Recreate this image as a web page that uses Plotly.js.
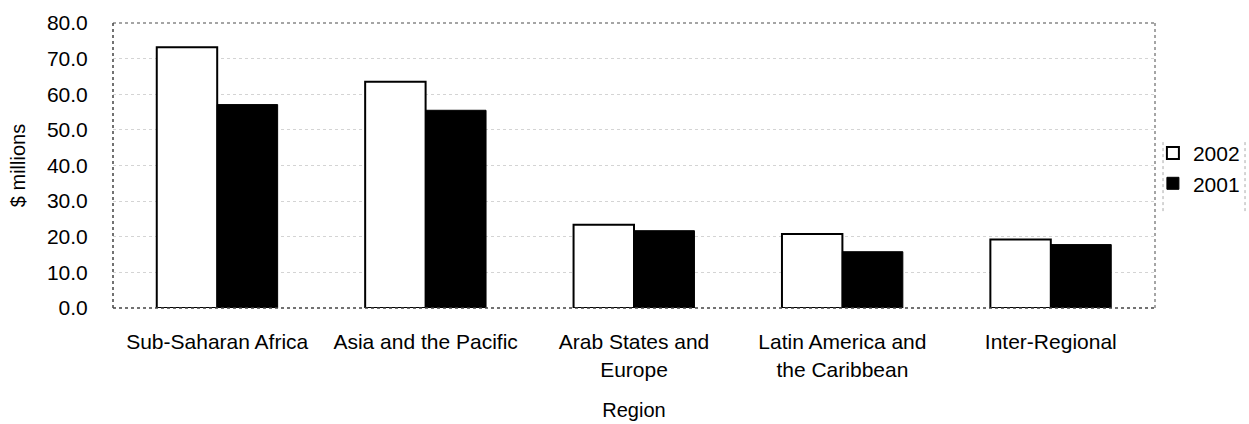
<!DOCTYPE html>
<html>
<head>
<meta charset="utf-8">
<script src="https://cdn.plot.ly/plotly-3.0.1.min.js"></script>
<style>html,body{margin:0;padding:0;background:#fff;}#chart{width:1249px;height:424px;}</style>
</head>
<body>
<div id="chart"></div>
<script>
const categories = ["Sub-Saharan Africa", "Asia and the Pacific", "Arab States and<br>Europe", "Latin America and<br>the Caribbean", "Inter-Regional"];
const values2002 = [73.2, 63.5, 23.4, 20.8, 19.2];
const values2001 = [57.1, 55.5, 21.7, 15.8, 17.8];
const yTicks = [0, 10, 20, 30, 40, 50, 60, 70, 80];
const yTickLabels = ["0.0", "10.0", "20.0", "30.0", "40.0", "50.0", "60.0", "70.0", "80.0"];

const fam = "Liberation Sans, Arial, sans-serif";

const data = [
  {type: "bar", name: "2002", x: categories, y: values2002,
   marker: {color: "#fff", line: {color: "#000", width: 2}}},
  {type: "bar", name: "2001", x: categories, y: values2001,
   marker: {color: "#000", line: {color: "#000", width: 1}}}
];

const layout = {
  width: 1249, height: 424,
  margin: {l: 113, r: 94, t: 23, b: 116, autoexpand: false},
  paper_bgcolor: "#fff", plot_bgcolor: "#fff",
  font: {family: fam, size: 21, color: "#000"},
  barmode: "group", bargap: 0.42, bargroupgap: 0,
  showlegend: true,
  legend: {x: 0.998, y: 0.49, xanchor: "left", yanchor: "middle",
    font: {family: fam, size: 21, color: "#000"},
    borderwidth: 0, itemwidth: 30, tracegroupgap: 0, bgcolor: "rgba(0,0,0,0)"},
  xaxis: {
    automargin: false,
    showgrid: false, zeroline: false, showline: false,
    ticks: "outside", ticklen: 15, tickcolor: "rgba(0,0,0,0)",
    tickfont: {family: fam, size: 21, color: "#000"},
    title: {text: "Region", font: {family: fam, size: 20, color: "#000"}, standoff: 23}
  },
  yaxis: {
    automargin: false,
    range: [0, 80], tickvals: yTicks, ticktext: yTickLabels,
    showgrid: true, gridcolor: "#d4d4d4", griddash: "dot", gridwidth: 1,
    zeroline: false, showline: false,
    ticks: "outside", ticklen: 20, tickcolor: "rgba(0,0,0,0)",
    tickfont: {family: fam, size: 21, color: "#000"},
    title: {text: "$ millions", font: {family: fam, size: 20, color: "#000"}, standoff: 15}
  },
  shapes: [
    {type: "line", xref: "paper", yref: "paper", x0: 0, x1: 1, y0: 1, y1: 1,
     line: {color: "#888", width: 1.5, dash: "dot"}, layer: "above"},
    {type: "line", xref: "paper", yref: "paper", x0: 1, x1: 1, y0: 0, y1: 1,
     line: {color: "#888", width: 1.5, dash: "dot"}, layer: "above"},
    {type: "line", xref: "paper", yref: "paper", x0: 0, x1: 0, y0: 0, y1: 1,
     line: {color: "#444", width: 1.5, dash: "dot"}, layer: "above"},
    {type: "line", xref: "paper", yref: "paper", x0: 0, x1: 1, y0: 0, y1: 0,
     line: {color: "#444", width: 1.5, dash: "dot"}, layer: "above"},
    {type: "line", xref: "paper", yref: "paper", x0: 1.0077, x1: 1.0077, y0: 0.34, y1: 0.59,
     line: {color: "#aaa", width: 1, dash: "dot"}},
    {type: "line", xref: "paper", yref: "paper", x0: 1.0864, x1: 1.0864, y0: 0.34, y1: 0.59,
     line: {color: "#aaa", width: 1, dash: "dot"}}
  ]
};

Plotly.newPlot("chart", data, layout, {displayModeBar: false, staticPlot: true});
</script>
</body>
</html>
